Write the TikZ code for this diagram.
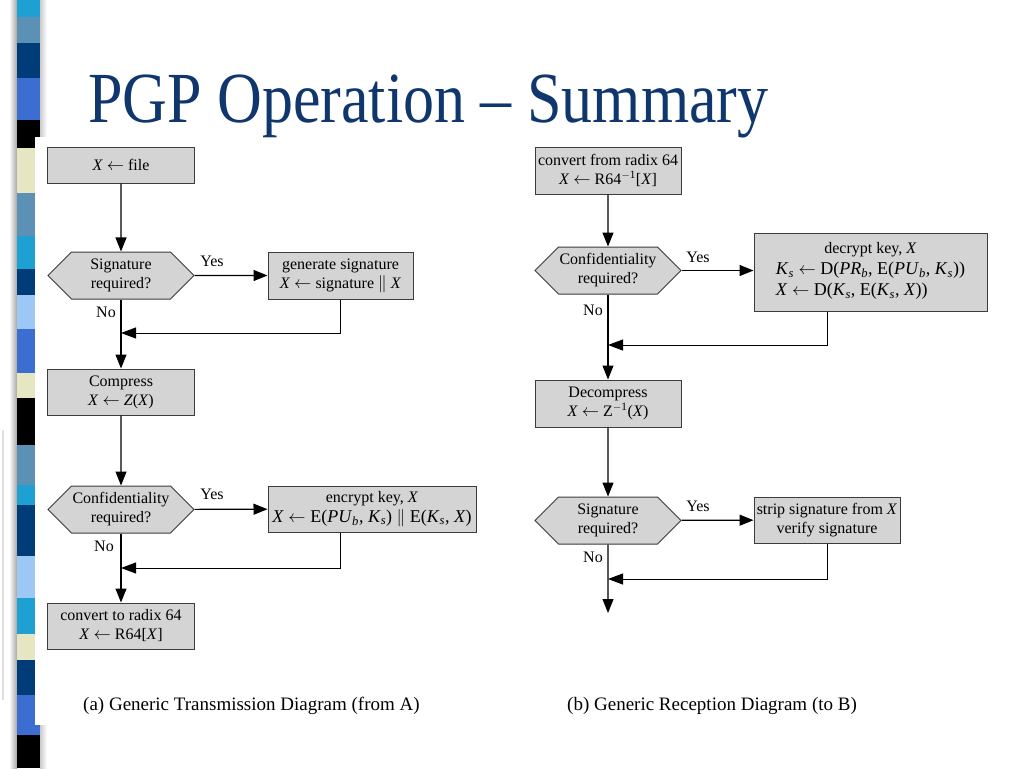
\documentclass[tikz,border=0pt]{standalone}
\usepackage{fontspec}
\setmainfont{Liberation Serif}
\usetikzlibrary{arrows.meta,shapes.symbols}
\definecolor{boxgray}{RGB}{212,212,212}
\definecolor{edgegray}{RGB}{60,60,60}
\definecolor{titleblue}{RGB}{15,55,110}
\definecolor{bcyan}{RGB}{30,160,210}
\definecolor{bsteel}{RGB}{90,145,180}
\definecolor{bnavy}{RGB}{0,60,120}
\definecolor{broyal}{RGB}{60,110,210}
\definecolor{bbeige}{RGB}{230,230,195}
\definecolor{blight}{RGB}{155,200,245}
\newcommand{\vr}[1]{\textit{#1}}
\newcommand{\isub}[1]{\textsubscript{\textit{#1}}}
\newcommand{\larr}{$\leftarrow$}
\newcommand{\dbar}{$\Vert$}
\newcommand{\bigline}{\fontsize{18}{21}\selectfont}

\begin{document}
\begin{tikzpicture}[x=1pt,y=-1pt,
	every node/.style={font=\fontsize{16}{19}\selectfont},
	stepbox/.style={draw=edgegray,fill=boxgray,line width=1pt,minimum width=147pt,minimum height=46pt,align=center,inner sep=2pt},
	choice/.style={shape=signal,signal to=west and east,signal pointer angle=90,draw=edgegray,fill=boxgray,line width=1pt,minimum width=146pt,minimum height=47pt,align=center,inner sep=1pt},
	flow/.style={-{Triangle[length=14pt,width=11pt]},line width=1.2pt},
	back/.style={-{Triangle[length=15pt,width=11pt]},line width=1pt},
	lbl/.style={inner sep=0pt}]
	\useasboundingbox (0,0) rectangle (1024,768);
	% side strip
	\shade[left color=white,right color=gray!70] (9,0) rectangle (17,768);
	\shade[left color=gray!40,right color=white] (40,0) rectangle (47,768);
	\foreach \ya/\yb/\bc in {0/17/bcyan,17/43/bsteel,43/78/bnavy,78/120/broyal,120/148/black,148/193/bbeige,193/236/bsteel,236/269/bcyan,269/295/bnavy,295/329/blight,329/373/broyal,373/398/bbeige,398/445/black,445/485/bsteel,485/505/bcyan,505/556/bnavy,556/598/blight,598/634/bcyan,634/660/bbeige,660/695/bnavy,695/735/broyal,735/768/black}
		{\fill[\bc] (17,\ya) rectangle (40,\yb);}
	\draw[gray!25,line width=1.5pt] (3,430) -- (3,700);
	\fill[white] (35,137) rectangle (1010,725);
	% title
	\node[anchor=base west,inner sep=0pt,text=titleblue,font=\fontsize{62}{62}\selectfont] (title) at (88,122) {\scalebox{1}[1.16]{PGP Operation -- Summary}};
	% (a) transmission
	\node[stepbox,minimum height=36pt] (file) at (121,165) {\vr{X} \larr{} file};
	\node[choice] (sig) at (121,275.5) {Signature\\required?};
	\node[stepbox,minimum width=145pt,minimum height=47pt] (gen) at (340.5,275.5) {generate signature\\\vr{X} \larr{} signature \dbar{} \vr{X}};
	\node[stepbox] (comp) at (121,392) {Compress\\\vr{X} \larr{} \vr{Z}(\vr{X})};
	\node[choice] (conf) at (121,509.5) {Confidentiality\\required?};
	\node[stepbox,minimum width=208pt] (enc) at (372,509) {encrypt key, \vr{X}\\[1pt]{\bigline\vr{X} \larr{} E(\vr{PU}\isub{b}, \vr{K}\isub{s}) \dbar{} E(\vr{K}\isub{s}, \vr{X})}};
	\node[stepbox] (radix) at (121,626) {convert to radix 64\\\vr{X} \larr{} R64[\vr{X}]};
	\coordinate (j1) at (121,333);
	\coordinate (j2) at (121,568);
	\draw[flow] (file) -- (sig);
	\draw[flow] (sig) -- (gen);
	\draw[flow] (sig) -- (comp);
	\draw[back] (gen.south) |- (j1);
	\draw[flow] (comp) -- (conf);
	\draw[flow] (conf) -- (enc);
	\draw[flow] (conf) -- (radix);
	\draw[back] (enc.south -| gen.south) |- (j2);
	\node[lbl] (yes1) at (212,261) {Yes};
	\node[lbl] (no1) at (106,312) {No};
	\node[lbl] (yes2) at (212,494) {Yes};
	\node[lbl] (no2) at (104,546) {No};
	% (b) reception
	\node[stepbox,minimum width=146pt,minimum height=47pt] (unradix) at (608,170.5) {convert from radix 64\\\vr{X} \larr{} R64\textsuperscript{$-$1}[\vr{X}]};
	\node[choice] (rconf) at (608,270.5) {Confidentiality\\required?};
	\node[stepbox,minimum width=233pt,minimum height=78pt] (dec) at (870.5,272) {decrypt key, \vr{X}\\[2pt]{\bigline\begin{tabular}{@{}l@{}}\vr{K}\isub{s} \larr{} D(\vr{PR}\isub{b}, E(\vr{PU}\isub{b}, \vr{K}\isub{s}))\\\vr{X} \larr{} D(\vr{K}\isub{s}, E(\vr{K}\isub{s}, \vr{X}))\end{tabular}}};
	\node[stepbox,minimum width=146pt,minimum height=47pt] (decomp) at (608,403.5) {Decompress\\\vr{X} \larr{} Z\textsuperscript{$-$1}(\vr{X})};
	\node[choice] (rsig) at (608,520.5) {Signature\\required?};
	\node[stepbox,minimum width=146pt] (strip) at (827,520) {strip signature from \vr{X}\\verify signature};
	\coordinate (k1) at (608,345);
	\coordinate (k2) at (608,579);
	\coordinate (out) at (608,613);
	\draw[flow] (unradix) -- (rconf);
	\draw[flow] (rconf.east) -- (rconf.east -| dec.west);
	\draw[flow] (rconf) -- (decomp);
	\draw[back] (dec.south -| strip.south) |- (k1);
	\draw[flow] (decomp) -- (rsig);
	\draw[flow] (rsig) -- (strip);
	\draw[flow] (rsig) -- (out);
	\draw[back] (strip.south) |- (k2);
	\node[lbl] (yes3) at (698,257) {Yes};
	\node[lbl] (no3) at (593,310) {No};
	\node[lbl] (yes4) at (698,506) {Yes};
	\node[lbl] (no4) at (593,557) {No};
	% captions
	\node[anchor=base west,inner sep=0pt,font=\fontsize{19}{21}\selectfont] (capa) at (83,710) {(a) Generic Transmission Diagram (from A)};
	\node[anchor=base west,inner sep=0pt,font=\fontsize{19}{21}\selectfont] (capb) at (567,710) {(b) Generic Reception Diagram (to B)};
\end{tikzpicture}
\end{document}
